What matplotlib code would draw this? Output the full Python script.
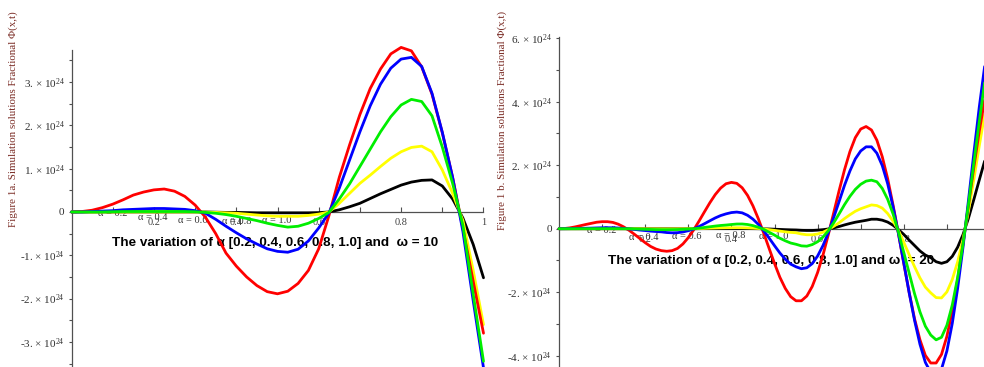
import numpy as np
import matplotlib
matplotlib.use("Agg")
import matplotlib.pyplot as plt
from matplotlib.ticker import FixedLocator, FixedFormatter

# ---------------- data (values in units of 1e24) ----------------
# Figure 1a: omega = 10, sampled at x = 0, 0.025, ..., 1.0
x_a = np.linspace(0.0, 1.0, 41)
a_red = [0, 0.01, 0.04, 0.1, 0.18, 0.28, 0.39, 0.46, 0.51, 0.53,
         0.48, 0.36, 0.16, -0.12, -0.5, -0.95, -1.25, -1.5, -1.7, -1.84,
         -1.89, -1.83, -1.65, -1.35, -0.85, -0.08, 0.8, 1.55, 2.25, 2.85,
         3.3, 3.65, 3.8, 3.72, 3.35, 2.72, 1.83, 0.8, -0.38, -1.6, -2.8]
a_blue = [0, 0.0, 0.01, 0.02, 0.03, 0.05, 0.06, 0.07, 0.08, 0.08,
          0.07, 0.06, 0.03, -0.03, -0.17, -0.33, -0.48, -0.62, -0.74, -0.85,
          -0.91, -0.93, -0.86, -0.67, -0.37, -0.02, 0.55, 1.2, 1.85, 2.45,
          2.95, 3.32, 3.53, 3.57, 3.36, 2.74, 1.84, 0.8, -0.45, -2.05, -3.6]
a_green = [0, 0, 0, 0, 0.005, 0.01, 0.01, 0.01, 0.01, 0.01,
           0.01, 0.01, 0.005, -0.01, -0.03, -0.06, -0.1, -0.15, -0.2, -0.26,
           -0.31, -0.35, -0.33, -0.26, -0.15, -0.01, 0.3, 0.65, 1.05, 1.45,
           1.85, 2.2, 2.47, 2.6, 2.55, 2.22, 1.5, 0.66, -0.31, -1.9, -3.45]
a_yellow = [0, 0, 0, 0, 0, 0, 0, 0, 0, 0,
            0, 0, 0, -0.005, -0.01, -0.02, -0.03, -0.05, -0.07, -0.09,
            -0.1, -0.1, -0.1, -0.08, -0.05, 0, 0.2, 0.43, 0.66, 0.85,
            1.05, 1.24, 1.39, 1.49, 1.52, 1.39, 0.97, 0.43, -0.2, -1.35, -2.6]
a_black = [0, 0, 0, 0, 0, 0, 0, 0, 0, 0,
           0, 0, 0, 0, -0.005, -0.01, -0.01, -0.015, -0.02, -0.02,
           -0.02, -0.02, -0.02, -0.02, -0.015, 0, 0.05, 0.12, 0.2, 0.31,
           0.42, 0.52, 0.62, 0.69, 0.73, 0.74, 0.6, 0.3, -0.14, -0.75, -1.52]

# Figure 1b: omega = 20, sampled at x = 0, 0.0125, ..., 0.9875
x_b = np.linspace(0.0, 0.9875, 80)
b_red = [0, 0.007, 0.027, 0.058, 0.096, 0.135, 0.17, 0.205, 0.222, 0.222,
         0.199, 0.143, 0.059, -0.049, -0.175, -0.308, -0.44, -0.557, -0.64, -0.69,
         -0.71, -0.69, -0.62, -0.48, -0.28, -0.035, 0.242, 0.533, 0.818, 1.075,
         1.28, 1.417, 1.46, 1.43, 1.29, 1.05, 0.72, 0.314, -0.141, -0.62,
         -1.093, -1.53, -1.88, -2.14, -2.27, -2.27, -2.12, -1.82, -1.38, -0.83,
         -0.18, 0.51, 1.205, 1.86, 2.43, 2.87, 3.14, 3.22, 3.11, 2.79,
         2.27, 1.58, 0.75, -0.15, -1.10, -2.01, -2.84, -3.50, -3.99, -4.23,
         -4.23, -3.96, -3.39, -2.58, -1.59, -0.47, 0.73, 1.93, 3.06, 4.05]
b_blue = [0, 0.001, 0.003, 0.006, 0.011, 0.015, 0.019, 0.025, 0.03, 0.032,
          0.029, 0.022, 0.009, -0.006, -0.022, -0.041, -0.058, -0.075, -0.088, -0.099,
          -0.12, -0.129, -0.124, -0.102, -0.063, -0.008, 0.07, 0.158, 0.25, 0.34,
          0.414, 0.468, 0.509, 0.525, 0.5, 0.423, 0.302, 0.137, -0.063, -0.294,
          -0.533, -0.764, -0.96, -1.115, -1.2, -1.26, -1.23, -1.1, -0.86, -0.53,
          -0.12, 0.36, 0.86, 1.37, 1.82, 2.2, 2.45, 2.58, 2.58, 2.38,
          1.99, 1.42, 0.7, -0.15, -1.08, -2.02, -2.89, -3.64, -4.21, -4.53,
          -4.63, -4.42, -3.85, -2.98, -1.87, -0.57, 0.89, 2.38, 3.82, 5.11]
b_green = [0, 0, 0, 0, 0.001, 0.001, 0.002, 0.002, 0.002, 0.002,
           0.002, 0.001, 0.0, -0.002, -0.007, -0.012, -0.018, -0.023, -0.027, -0.03,
           -0.03, -0.028, -0.025, -0.019, -0.011, -0.002, 0.017, 0.04, 0.062, 0.084,
           0.102, 0.116, 0.133, 0.148, 0.149, 0.133, 0.098, 0.046, -0.02, -0.11,
           -0.2, -0.3, -0.38, -0.45, -0.49, -0.54, -0.55, -0.5, -0.41, -0.26,
           -0.06, 0.19, 0.47, 0.76, 1.02, 1.24, 1.4, 1.5, 1.53, 1.48,
           1.27, 0.93, 0.47, -0.1, -0.75, -1.4, -2.05, -2.62, -3.07, -3.35,
           -3.5, -3.42, -3.04, -2.4, -1.53, -0.47, 0.76, 2.07, 3.36, 4.6]
b_yellow = [0, 0, 0, 0, 0, 0, 0, 0, 0, 0,
            0, 0, 0, -0.001, -0.002, -0.003, -0.004, -0.005, -0.005, -0.006,
            -0.006, -0.005, -0.004, -0.003, -0.002, 0.0, 0.005, 0.012, 0.018, 0.023,
            0.027, 0.03, 0.031, 0.032, 0.03, 0.025, 0.018, 0.008, -0.005, -0.03,
            -0.052, -0.076, -0.097, -0.115, -0.128, -0.167, -0.19, -0.19, -0.167, -0.11,
            -0.027, 0.076, 0.19, 0.32, 0.44, 0.55, 0.63, 0.69, 0.75, 0.73,
            0.65, 0.48, 0.24, -0.05, -0.43, -0.82, -1.2, -1.55, -1.84, -2.02,
            -2.17, -2.18, -1.99, -1.6, -1.04, -0.33, 0.55, 1.55, 2.6, 3.6]
b_black = [0, 0, 0, 0, 0, 0, 0, 0, 0, 0,
           0, 0, 0, 0, 0, 0, 0, 0, 0, 0,
           0, 0, 0, 0, 0, 0, 0.002, 0.004, 0.005, 0.006,
           0.007, 0.007, 0.007, 0.006, 0.005, 0.004, 0.003, 0.001, -0.002, -0.008,
           -0.015, -0.022, -0.03, -0.036, -0.04, -0.05, -0.055, -0.055, -0.045, -0.03,
           -0.007, 0.028, 0.07, 0.12, 0.165, 0.205, 0.235, 0.265, 0.3, 0.3,
           0.27, 0.21, 0.11, -0.025, -0.18, -0.36, -0.53, -0.7, -0.83, -0.91,
           -1.04, -1.09, -1.04, -0.87, -0.58, -0.18, 0.33, 0.92, 1.53, 2.13]

alpha_labels = ["α = 0.2", "α = 0.4", "α = 0.6", "α = 0.8", "α = 1.0"]
alpha_pos_a = [(0.10, -0.03), (0.198, -0.12), (0.295, -0.19), (0.40, -0.21), (0.499, -0.19)]
alpha_pos_b = [(0.10, -0.07), (0.197, -0.29), (0.297, -0.26), (0.399, -0.21), (0.499, -0.26)]

xtick_a = [0.2, 0.4, 0.6, 0.8, 1.0]
xtick_a_lbl = ["0.2", "0.4", "0.6", "0.8", "1"]
xtick_b = [0.2, 0.4, 0.6, 0.8]
xtick_b_lbl = ["0.2", "0.4", "0.6", "0.8"]
ytick_a = [-3, -2, -1, 0, 1, 2, 3]
ytick_b = [-4, -2, 0, 2, 4, 6]

title_a = "The variation of α [0.2, 0.4, 0.6, 0.8, 1.0] and  ω = 10"
title_b = "The variation of α [0.2, 0.4, 0.6, 0.8, 1.0] and ω  = 20"
ylabel_a = "Figure 1a. Simulation solutions Fractional Φ(x,t)"
ylabel_b = "Figure 1 b. Simulation solutions Fractional Φ(x,t)"

# ---------------- styling ----------------
plt.rcParams['font.family'] = ['Liberation Serif', 'DejaVu Serif']
plt.rcParams['mathtext.default'] = 'regular'

W, H = 984, 367
fig = plt.figure(figsize=(W / 100, H / 100), dpi=100)

def ytick_text(v):
    if v == 0:
        return "0"
    return "%d. × 10$^{24}$" % v

def make_axes(x0_px, xscale, xmax, top_px, ylim):
    left = x0_px / W
    width = xmax * xscale / W
    height = (H - top_px) / H
    ax = fig.add_axes([left, 0.0, width, height])
    ax.set_xlim(0, xmax)
    ax.set_ylim(*ylim)
    ax.patch.set_alpha(0)
    for s in ("top", "right"):
        ax.spines[s].set_visible(False)
    ax.spines["bottom"].set_position(("data", 0))
    for s in ("left", "bottom"):
        ax.spines[s].set_color("#505050")
        ax.spines[s].set_linewidth(0.9)
    ax.tick_params(axis="x", which="both", direction="in", length=3.5,
                   width=0.8, color="#505050", labelsize=7.5, pad=4.5,
                   labelcolor="#404040")
    ax.tick_params(axis="y", which="both", direction="out", length=2.5,
                   width=0.8, color="#505050", labelsize=8, pad=2.5,
                   labelcolor="#303030")
    return ax

colors = ["#ff0000", "#0000ff", "#00ee00", "#ffff00", "#000000"]
zorders = [4, 5, 7, 3.5, 3.2]

def draw_panel(ax, x, series, xt, xtl, yt, yminor, xminor, alpha_pos, title, title_xy):
    for y, c, z in zip(series, colors, zorders):
        ax.plot(x, y, color=c, lw=2.0, zorder=z, solid_capstyle="round",
                clip_on=False)
    ax.xaxis.set_major_locator(FixedLocator(xt))
    ax.xaxis.set_major_formatter(FixedFormatter(xtl))
    ax.xaxis.set_minor_locator(FixedLocator(xminor))
    ax.yaxis.set_major_locator(FixedLocator(yt))
    ax.yaxis.set_major_formatter(FixedFormatter([ytick_text(v) for v in yt]))
    ax.yaxis.set_minor_locator(FixedLocator(yminor))
    for lbl, (px, py) in zip(alpha_labels, alpha_pos):
        ax.text(px, py, lbl, fontsize=7.5, color="#333333", ha="center",
                va="center", zorder=2)
    ax.text(title_xy[0], title_xy[1], title, fontsize=9.7, fontweight="bold",
            family=["Liberation Sans", "DejaVu Sans"], color="black",
            ha="center", va="center", zorder=2)

# left panel: omega = 10
ax1 = make_axes(71.5, 412.0, 1.012, 50, (-3.58, 3.74))
ax1.spines["bottom"].set_bounds(0, 1.0)
draw_panel(ax1, x_a, [a_red, a_blue, a_green, a_yellow, a_black],
           xtick_a, xtick_a_lbl, ytick_a,
           [-3.5, -2.5, -1.5, -0.5, 0.5, 1.5, 2.5, 3.5],
           [0.1, 0.3, 0.5, 0.7, 0.9],
           alpha_pos_a, title_a, (0.493, -0.72))

# right panel: omega = 20
ax2 = make_axes(559.0, 431.0, (W - 559.0) / 431.0, 37, (-4.356, 6.04))
draw_panel(ax2, x_b, [b_red, b_blue, b_green, b_yellow, b_black],
           xtick_b, xtick_b_lbl, ytick_b,
           [-3, -1, 1, 3, 5],
           [0.1, 0.3, 0.5, 0.7, 0.9],
           alpha_pos_b, title_b, (0.492, -1.01))

# rotated axis titles
fig.text(13 / W, 1 - 119 / H, ylabel_a, rotation=90, fontsize=7.9,
         color="#7b2d26", ha="center", va="center")
fig.text(502 / W, 1 - 120 / H, ylabel_b, rotation=90, fontsize=7.9,
         color="#7b2d26", ha="center", va="center")

fig.savefig("out.png", dpi=100)
